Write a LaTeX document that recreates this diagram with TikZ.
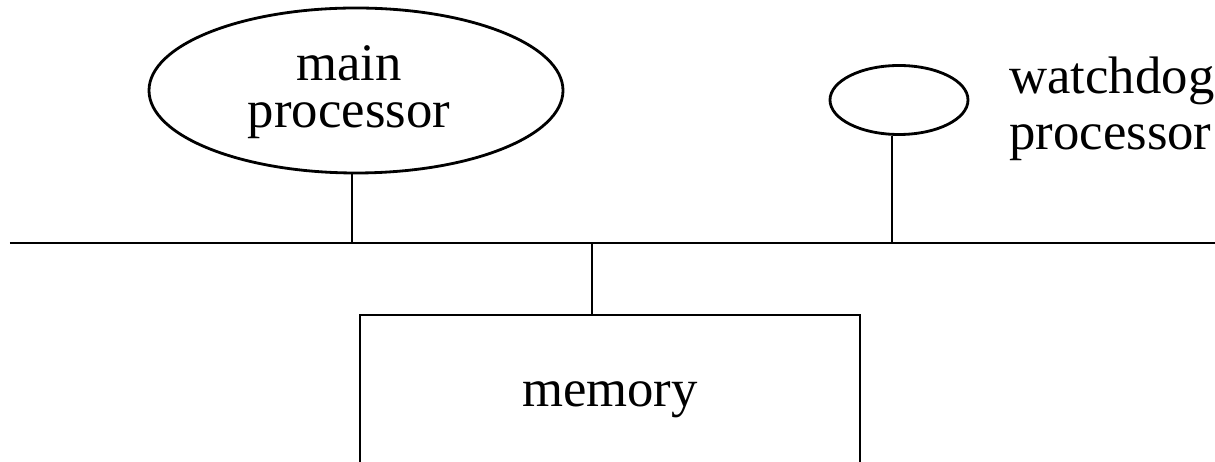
\documentclass[tikz,border=0pt]{standalone}
\usepackage{fontspec}
\setmainfont{Liberation Serif}
\usetikzlibrary{shapes.geometric}

\begin{document}
\begin{tikzpicture}[line width=1.6pt,
                    proc/.style={draw, ellipse, inner sep=0pt},
                    unit/.style={draw, rectangle, inner sep=0pt},
                    lbl/.style={inner sep=0pt, font=\fontsize{30}{27.3}\selectfont}]
                    \useasboundingbox (0,0) rectangle (24.3,9.24);
                    \coordinate (busL) at (0.2,4.38);
                    \coordinate (busR) at (24.6,4.38);
                    \draw (busL) -- (busR);
                    \node[proc, minimum width=8.28cm, minimum height=3.3cm] (mainp) at (7.12,7.43) {};
                    \node[lbl, align=center, anchor=base] (mainl) at (6.98,6.68) {main\\processor};
                    \node[proc, minimum width=2.76cm, minimum height=1.38cm] (wdp) at (17.98,7.24) {};
                    \node[lbl, align=left, anchor=base west, font=\fontsize{30}{32.4}\selectfont] (wdl) at (20.16,6.24) {watchdog\\processor};
                    \node[unit, lbl, minimum width=10cm, minimum height=3.4cm] (mem) at (12.2,1.24) {memory};
                    \coordinate (maintap) at (7.04,4.38);
                    \coordinate (wdtap) at (17.84,4.38);
                    \coordinate (memtap) at (11.84,4.38);
                    \draw (maintap) -- (maintap |- mainp.south);
                    \draw (wdtap) -- (wdtap |- wdp.south);
                    \draw (memtap) -- (memtap |- mem.north);
                \end{tikzpicture}
\end{document}
